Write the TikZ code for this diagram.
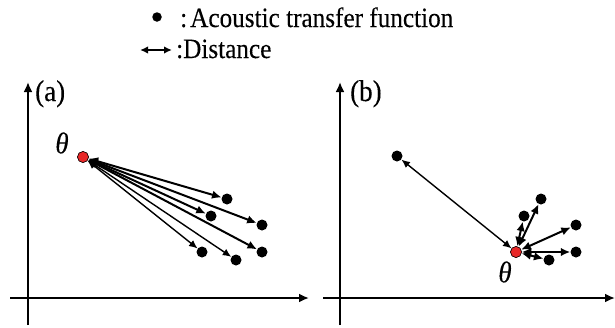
\documentclass[tikz,border=0pt]{standalone}
\usepackage{fontspec}
\setmainfont[FakeStretch=0.9,FakeBold=0.2]{Liberation Serif}
\usetikzlibrary{arrows.meta}
\definecolor{srcred}{RGB}{232,40,40}
\begin{document}
\begin{tikzpicture}[x=1pt,y=-1pt,
  axis/.style={line width=2.6pt,-{Latex[length=10pt,width=9pt]}},
  dot/.style={circle,fill=black,inner sep=0pt,minimum size=11pt},
  src/.style={circle,fill=srcred,draw=black,line width=0.5pt,inner sep=0pt,minimum size=11pt},
  dist/.style={{Latex[length=9.5pt,width=8.5pt]}-{Latex[length=9.5pt,width=8.5pt]},line width=2pt},
  distthin/.style={{Latex[length=8.5pt,width=7.5pt]}-{Latex[length=8.5pt,width=7.5pt]},line width=1.4pt},
  txt/.style={inner sep=0pt,anchor=base west,font=\fontsize{28}{30}\selectfont},
  lab/.style={inner sep=0pt,anchor=base west,font=\fontsize{30}{32}\selectfont},
  th/.style={inner sep=0pt,font=\fontsize{30}{32}\selectfont\itshape}]
\useasboundingbox (0,0) rectangle (615,327);
% legend
\node[dot,minimum size=9.5pt] (ldot) at (157,17) {};
\node[txt] (ltxt1) at (180,27) {:\kern3pt Acoustic transfer function};
\coordinate (la0) at (140,50);
\coordinate (la1) at (172,50);
\draw[{Latex[length=8pt,width=7.5pt]}-{Latex[length=8pt,width=7.5pt]},line width=2pt] (la0) -- (la1);
\node[txt] (ltxt2) at (176,58) {:Distance};
% panel (a)
\coordinate (ay0) at (28,325);
\coordinate (ay1) at (28,82);
\coordinate (ax0) at (10,298);
\coordinate (ax1) at (309,298);
\draw[axis] (ay0) -- (ay1);
\draw[axis] (ax0) -- (ax1);
\node[lab] (alab) at (35,101) {(a)};
\node[th] (ath) at (62,143) {θ};
\node[dot] (a1) at (227,199) {};
\node[dot] (a2) at (211,216) {};
\node[dot] (a3) at (262,225) {};
\node[dot] (a4) at (262,252) {};
\node[dot] (a5) at (202,252) {};
\node[dot] (a6) at (236,260) {};
\node[src] (ar) at (83,157) {};
\draw[dist] (ar) -- (a1);
\draw[dist] (ar) -- (a2);
\draw[dist] (ar) -- (a3);
\draw[dist] (ar) -- (a4);
\draw[distthin] (ar) -- (a5);
\draw[distthin] (ar) -- (a6);
\node[src] (ar2) at (83,157) {};
% panel (b)
\coordinate (by0) at (340,325);
\coordinate (by1) at (340,82);
\coordinate (bx0) at (323,298);
\coordinate (bx1) at (615,298);
\draw[axis] (by0) -- (by1);
\draw[axis] (bx0) -- (bx1);
\node[lab] (blab) at (350,101) {(b)};
\node[th] (bth) at (505,272) {θ};
\node[dot] (b0) at (397,156) {};
\node[dot] (b1) at (541,199) {};
\node[dot] (b2) at (524,216) {};
\node[dot] (b3) at (576,225) {};
\node[dot] (b4) at (576,252) {};
\node[dot] (b6) at (549,260) {};
\node[src] (br) at (516,252) {};
\draw[distthin] (br) -- (b0);
\draw[dist] (br) -- (b1);
\draw[dist] (br) -- (b2);
\draw[dist] (br) -- (b3);
\draw[dist] (br) -- (b4);
\draw[dist] (br) -- (b6);
\node[src] (br2) at (516,252) {};
\end{tikzpicture}
\end{document}
